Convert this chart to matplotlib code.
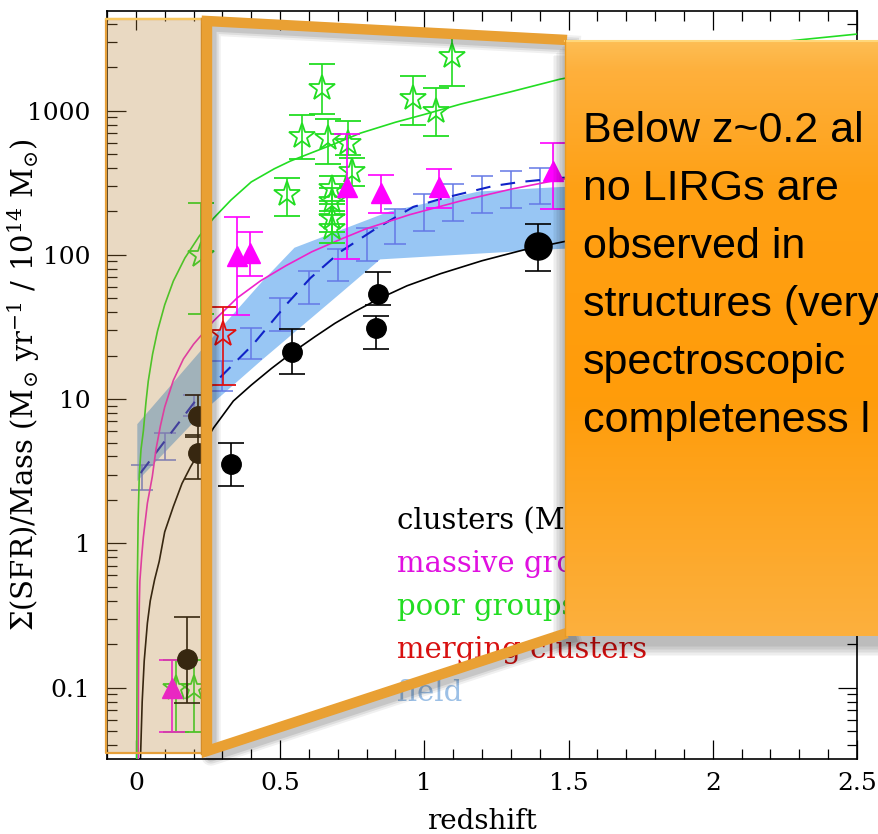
import numpy as np
import matplotlib
matplotlib.use('Agg')
from matplotlib import pyplot as plt
from matplotlib.patches import Rectangle
from matplotlib.ticker import FixedLocator, FixedFormatter, LogLocator, NullFormatter

plt.rcParams['font.family'] = 'DejaVu Serif'
plt.rcParams['mathtext.fontset'] = 'dejavuserif'

# --- clusters (black circles), last one drawn bigger
clu_z = [0.178, 0.217, 0.217, 0.331, 0.542, 0.834, 0.841, 1.395]
clu_y = [0.158, 7.6, 4.2, 3.55, 21.2, 31.0, 53.5, 115]
clu_hi = [0.308, 10.6, 5.6, 4.96, 30.6, 37.6, 76, 163]
clu_lo = [0.078, 5.5, 2.8, 2.5, 14.9, 22.2, 44.8, 77]

# --- massive groups (magenta triangles)
mg_z = [0.127, 0.352, 0.397, 0.732, 0.851, 1.052, 1.447]
mg_y = [0.099, 98, 103, 295, 268, 295, 380]
mg_hi = [0.155, 182, 144, 686, 356, 393, 594]
mg_lo = [0.049, 38, 71, 93, 195, 211, 207]

# --- poor groups (green open stars)
pg_z = [0.14, 0.2, 0.225, 0.525, 0.577, 0.646, 0.667, 0.681, 0.681, 0.681,
        0.681, 0.737, 0.75, 0.962, 1.042, 1.097]
pg_y = [0.1, 0.1, 100, 263, 665, 1429, 644, 290, 235, 180, 153, 594, 380,
        1219, 990, 2382]
pg_hi = [0.155, 0.155, 228, 340, 929, 2090, 871, 350, 290, 225, 200, 845,
         470, 1730, 1429, 3300]
pg_lo = [0.049, 0.049, 39, 185, 460, 944, 425, 235, 190, 145, 120, 490, 300,
         792, 665, 1475]

# --- merging clusters (red open star)
mc_z = [0.303]
mc_y = [28.2]
mc_hi = [43.5]
mc_lo = [12.5]

# --- field: error bars, dashed trend and shaded band
fd_z = [0.02, 0.1, 0.2, 0.3, 0.4, 0.5, 0.6, 0.7, 0.8, 0.9, 1.0, 1.1, 1.2, 1.3, 1.4]
fd_hi = [3.49, 5.8, 10.7, 18.3, 31, 50, 77, 110, 153, 207, 263, 309, 351, 380, 398]
fd_lo = [2.34, 3.78, 7.6, 11.4, 18.9, 29.6, 45.5, 66, 90, 119, 146, 171, 195, 211, 224]

fd_line_z = [0.016, 0.224, 0.269, 0.407, 0.525, 0.605, 0.709, 0.83, 0.962,
             1.066, 1.239, 1.333, 1.5]
fd_line_y = [3.07, 10.8, 12.7, 24, 46, 69, 105, 151, 215, 247, 300, 320, 345]

band_top_z = [0.005, 0.224, 0.44, 0.55, 0.88, 1.19, 1.47, 1.6]
band_top = [6.7, 21.5, 66, 112, 200, 275, 295, 300]
band_bot_z = [0.005, 0.248, 0.432, 0.709, 0.847, 1.471, 1.6]
band_bot = [2.7, 8.7, 18.3, 54, 93, 110, 112]

# --- model curves
clu_curve_z = [0.016, 0.022, 0.029, 0.04, 0.05, 0.065, 0.081, 0.1, 0.13, 0.16,
               0.19, 0.217, 0.269, 0.338, 0.4, 0.47, 0.542, 0.62, 0.69, 0.76,
               0.837, 0.94, 1.056, 1.2, 1.343, 1.489, 1.6]
clu_curve_y = [0.032, 0.08, 0.153, 0.28, 0.4, 0.56, 0.75, 1.2, 1.8, 2.6, 3.4,
               4.2, 6.3, 9.7, 12.5, 16.3, 21, 27, 33.5, 40.5, 49, 61, 74, 91,
               108, 124, 135]
mg_curve_z = [0.008, 0.009, 0.010, 0.012, 0.014, 0.02, 0.026, 0.04, 0.057,
              0.07, 0.085, 0.1, 0.13, 0.165, 0.2, 0.269, 0.35, 0.432, 0.52,
              0.61, 0.709, 0.8, 0.95, 1.125, 1.3, 1.471, 1.6]
mg_curve_y = [0.032, 0.1, 0.2, 0.38, 0.55, 0.8, 1.1, 1.9, 2.9, 4.5, 6.5, 8.8,
              13.5, 19, 24, 34.7, 50, 66, 84, 105, 128, 152, 190, 236, 285,
              333, 360]
pg_curve_z = [0.003, 0.004, 0.005, 0.008, 0.012, 0.018, 0.026, 0.035, 0.043,
              0.058, 0.075, 0.1, 0.13, 0.17, 0.22, 0.269, 0.33, 0.4, 0.48,
              0.536, 0.62, 0.7, 0.778, 0.9, 1.0, 1.125, 1.3, 1.471, 1.7, 1.95,
              2.258, 2.5]
pg_curve_y = [0.032, 0.12, 0.5, 1.5, 3.0, 4.5, 6.0, 9.5, 13.3, 20.5, 29.6, 45,
              65.8, 95, 135, 179, 240, 320, 395, 447, 520, 600, 697, 830, 940,
              1107, 1350, 1652, 2000, 2450, 3030, 3390]

legend_labels = ['clusters (M', 'massive groups', 'poor groups',
                 'merging clusters', 'field']
legend_colors = ['black', '#E010E0', '#22DD22', '#D81010', '#9CC0E6']

note_lines = ['Below z~0.2 al', 'no LIRGs are', 'observed in',
              'structures (very', 'spectroscopic', 'completeness l']

GREEN = '#22DD22'
MAG = '#FF00FF'


def errs(y, hi, lo):
    y = np.array(y, float)
    return [y - np.array(lo, float), np.array(hi, float) - y]


fig = plt.figure(figsize=(8.79, 8.34), dpi=100)
ax = fig.add_axes([107 / 879, 75 / 834, 750 / 879, 748 / 834])
ax.set_yscale('log')
ax.set_xlim(-0.1, 2.5)
ax.set_ylim(0.032, 4900)

# field band + bars + dashed trend
ax.fill(np.concatenate([band_top_z, band_bot_z[::-1]]),
        np.concatenate([band_top, band_bot[::-1]]),
        color='#98C6F4', lw=0, zorder=1)
fd_c = np.sqrt(np.array(fd_hi) * np.array(fd_lo))
ax.errorbar(fd_z, fd_c, yerr=errs(fd_c, fd_hi, fd_lo), fmt='none',
            ecolor='#6478E6', elinewidth=1.1, capsize=8, capthick=1.1, zorder=2)
ax.plot(fd_line_z, fd_line_y, color='#1022C8', lw=1.5, ls=(0, (7, 5)), zorder=3)

# model curves
ax.plot(clu_curve_z, clu_curve_y, color='black', lw=1.2, zorder=3)
ax.plot(mg_curve_z, mg_curve_y, color='#EE22CC', lw=1.2, zorder=3)
ax.plot(pg_curve_z, pg_curve_y, color=GREEN, lw=1.2, zorder=3)

# poor groups
ax.errorbar(pg_z, pg_y, yerr=errs(pg_y, pg_hi, pg_lo), fmt='*', ms=19,
            mfc='none', mec=GREEN, mew=1.3, ecolor=GREEN, elinewidth=1.2,
            capsize=9.5, capthick=1.2, zorder=4)
# merging clusters
ax.errorbar(mc_z, mc_y, yerr=errs(mc_y, mc_hi, mc_lo), fmt='*', ms=19,
            mfc='none', mec='#E01010', mew=1.3, ecolor='#E01010',
            elinewidth=1.2, capsize=9.5, capthick=1.2, zorder=4)
# massive groups
ax.errorbar(mg_z, mg_y, yerr=errs(mg_y, mg_hi, mg_lo), fmt='^', ms=14,
            color=MAG, ecolor=MAG, elinewidth=1.2, capsize=9.5, capthick=1.2,
            zorder=5)
# clusters
ax.errorbar(clu_z, clu_y, yerr=errs(clu_y, clu_hi, clu_lo), fmt='none',
            ecolor='black', elinewidth=1.2, capsize=9.5, capthick=1.2, zorder=5)
ax.plot(clu_z[:-1], clu_y[:-1], 'o', color='black', ms=14, zorder=6)
ax.plot(clu_z[-1:], clu_y[-1:], 'o', color='black', ms=19.5, zorder=6)

# text legend
for i, (lab, col) in enumerate(zip(legend_labels, legend_colors)):
    ax.text(0.387, 0.318 - i * 0.0575, lab, color=col, fontsize=21,
            transform=ax.transAxes, va='center', ha='left', zorder=7)

# axes cosmetics
ax.xaxis.set_major_locator(FixedLocator([0, 0.5, 1, 1.5, 2, 2.5]))
ax.xaxis.set_major_formatter(FixedFormatter(['0', '0.5', '1', '1.5', '2', '2.5']))
ax.xaxis.set_minor_locator(FixedLocator(np.arange(-0.1, 2.51, 0.1)))
ax.yaxis.set_major_locator(FixedLocator([0.1, 1, 10, 100, 1000]))
ax.yaxis.set_major_formatter(FixedFormatter(['0.1', '1', '10', '100', '1000']))
ax.yaxis.set_minor_locator(LogLocator(base=10, subs=np.arange(2, 10)))
ax.yaxis.set_minor_formatter(NullFormatter())
ax.tick_params(which='both', direction='in', top=True, right=True,
               labelsize=18, width=0.9, colors='black')
ax.tick_params(which='major', length=13.5)
ax.tick_params(which='minor', length=7)
ax.tick_params(axis='x', pad=9)
ax.tick_params(axis='y', pad=12)
for sp in ax.spines.values():
    sp.set_linewidth(1.2)

ax.set_xlabel('redshift', fontsize=20)
ax.set_ylabel(r'$\Sigma$(SFR)/Mass (M$_{\odot}$ yr$^{-1}$ / 10$^{14}$ M$_{\odot}$)',
              fontsize=21)
ax.xaxis.set_label_coords(0.5, -0.066)
ax.yaxis.set_label_coords(-0.087, 0.5)

# --- overlay drawn in pixel coordinates on top of the plot
ov = fig.add_axes([0, 0, 1, 1], zorder=5)
ov.set_xlim(0, 879)
ov.set_ylim(834, 0)
ov.axis('off')

# tan low-z strip
ov.add_patch(Rectangle((106, 19), 96, 734, facecolor='#B98437', alpha=0.3,
                       edgecolor='none'))
ov.plot([202, 106, 106, 202], [19, 19, 753, 753], color='#E6A03A', lw=1.6)
ov.plot([106, 202], [19, 19], color='#F8C860', lw=1.6)
ov.plot([202, 202], [19, 753], color='#D8902A', lw=2.5)

# zoom wedge with a soft shadow
wx = [567, 207, 207, 567]
wy = [40, 21, 751, 633]
for k, a in enumerate([0.06, 0.08, 0.1]):
    ov.plot([x + 4 for x in wx], [y + 5 for y in wy], color='black', alpha=a,
            lw=14 - 3 * k, solid_joinstyle='round')
ov.plot(wx, wy, color='#E9A033', lw=7.5, solid_joinstyle='miter',
        solid_capstyle='butt')

# callout box: shadow, gradient fill, text
for k in range(8):
    ov.add_patch(Rectangle((565 - 12 + k * 1.5, 44 + 12 - k * 1.5), 330,
                           600, facecolor='black', alpha=0.035, lw=0))
stops = np.array([0, 0.05, 0.25, 0.6, 1.0])
cols = np.array([[253, 190, 85], [254, 176, 60], [255, 160, 20],
                 [255, 156, 10], [252, 176, 62]]) / 255
t = np.linspace(0, 1, 300)
grad = np.stack([np.interp(t, stops, cols[:, c]) for c in range(3)], axis=1)
ov.imshow(grad[:, None, :], extent=[565, 879, 636, 40], aspect='auto',
          zorder=3, interpolation='bilinear')
ov.plot([565, 879], [40.5, 40.5], color='#FFD77A', lw=1.5, zorder=4)
ov.plot([565, 565], [40, 636], color='#E99A22', lw=1.0, zorder=4)
ov.set_xlim(0, 879)
ov.set_ylim(834, 0)
for i, line in enumerate(note_lines):
    ov.text(583, 142 + i * 58, line, fontsize=31, family='Liberation Sans',
            color='black', va='baseline', ha='left', zorder=5)

fig.savefig('out.png', dpi=100)
